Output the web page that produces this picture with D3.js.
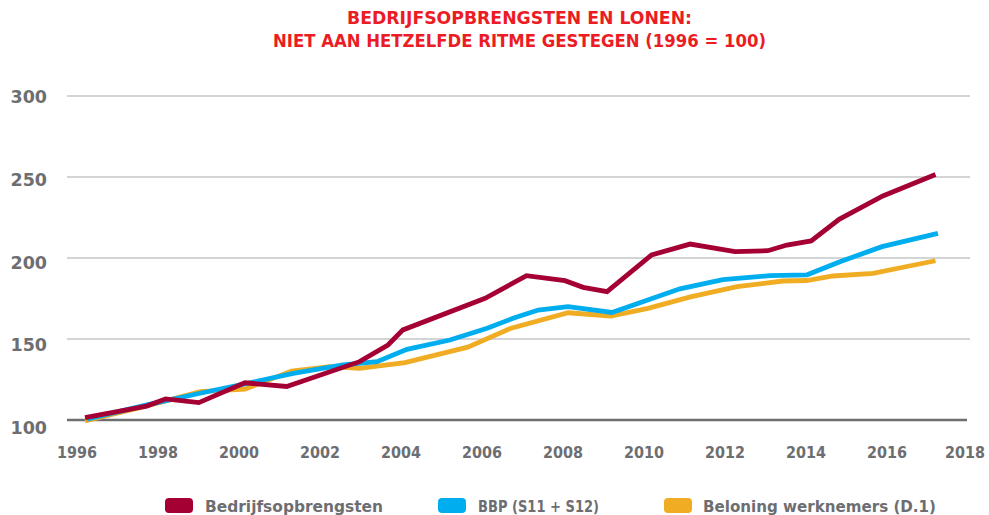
<!DOCTYPE html>
<html>
<head>
<meta charset="utf-8">
<script src="https://cdn.jsdelivr.net/npm/d3@7"></script>
<style>
    html, body { margin: 0; padding: 0; background: #fff; }
    svg { display: block; }
</style>
</head>
<body>
<div id="chart"></div>
<script>
// values, as [year, index] pairs (1996 = 100)
const opbrengsten = [
    [1996.0, 101.4], [1997.52, 108.6], [1997.99, 113.0], [1998.81, 110.7],
    [1999.95, 123.0], [2000.98, 120.7], [2002.78, 136.0], [2003.48, 146.3],
    [2003.85, 155.6], [2005.88, 175.1], [2006.9, 189.1], [2007.85, 186.0],
    [2008.3, 181.9], [2008.89, 179.2], [2009.99, 201.9], [2010.94, 208.6],
    [2012.05, 203.9], [2012.86, 204.5], [2013.33, 208.0], [2013.93, 210.5],
    [2014.62, 223.9], [2015.7, 238.3], [2017.0, 251.6]
];
const bbp = [
    [1996.05, 100.5], [1997.53, 109.3], [1998.84, 116.5], [1999.95, 122.3],
    [2001.14, 128.8], [2002.37, 134.0], [2003.21, 136.0], [2003.95, 143.6],
    [2005.01, 149.4], [2005.93, 156.6], [2006.57, 162.8], [2007.19, 167.9],
    [2007.93, 170.0], [2009.01, 166.4], [2010.69, 181.0], [2011.75, 186.6],
    [2012.91, 189.1], [2013.83, 189.6], [2014.64, 197.7], [2015.68, 207.0],
    [2017.06, 215.2]
];
const beloning = [
    [1996.0, 99.4], [1997.5, 108.6], [1998.85, 117.5], [1999.95, 119.0],
    [2001.1, 130.2], [2002.05, 133.0], [2002.78, 131.9], [2003.9, 135.4],
    [2005.45, 145.0], [2006.5, 156.5], [2007.93, 166.2], [2008.98, 164.2],
    [2009.9, 168.9], [2010.95, 176.0], [2012.1, 182.3], [2013.23, 185.8],
    [2013.82, 186.1], [2014.47, 188.9], [2015.46, 190.5], [2016.2, 194.3],
    [2017.0, 198.3]
];
const seriesNames = ['Bedrijfsopbrengsten', 'BBP (S11 + S12)', 'Beloning werknemers (D.1)'];
const xTicks = [1996, 1998, 2000, 2002, 2004, 2006, 2008, 2010, 2012, 2014, 2016, 2018];
const yTicks = [100, 150, 200, 250, 300];
const titleLines = ['BEDRIJFSOPBRENGSTEN EN LONEN:', 'NIET AAN HETZELFDE RITME GESTEGEN (1996 = 100)'];

document.addEventListener('DOMContentLoaded', function () {
    const width = 989;
    const height = 515;
    const colors = ['#a50034', '#00aeef', '#f0ac22'];
    const gray = '#6d6e71';
    const font = '"DejaVu Sans", sans-serif';

    const svg = d3.select('#chart')
        .append('svg')
        .attr('width', width)
        .attr('height', height);

    // scales: years run along x, index along y
    const x = d3.scaleLinear().domain([1996, 2018]).range([85, 976]);
    const y = d3.scaleLinear().domain([100, 300]).range([420, 96]);
    // tick labels sit a bit lower than the gridlines, more so at the bottom
    const yLabel = d3.scaleLinear().domain([100, 300]).range([434, 103]);

    // title, two centred lines
    svg.append('g')
        .selectAll('text')
        .data(titleLines)
        .enter()
        .append('text')
        .attr('x', 519.5)
        .attr('y', (d, i) => 24 + i * 23)
        .attr('text-anchor', 'middle')
        .attr('textLength', (d, i) => i === 0 ? 345 : 493)
        .attr('lengthAdjust', 'spacingAndGlyphs')
        .style('font', `bold 17px ${font}`)
        .style('fill', '#ec1c24')
        .text(d => d);

    // horizontal gridlines (100 is drawn as the darker base line)
    svg.append('g')
        .selectAll('line')
        .data(yTicks.filter(t => t !== 100))
        .enter()
        .append('line')
        .attr('x1', 67)
        .attr('x2', 970)
        .attr('y1', d => y(d))
        .attr('y2', d => y(d))
        .style('stroke', '#d3d4d6')
        .style('stroke-width', 2);

    svg.append('line')
        .attr('x1', 67)
        .attr('x2', 967)
        .attr('y1', y(100))
        .attr('y2', y(100))
        .style('stroke', gray)
        .style('stroke-width', 2.5);

    // y tick labels
    svg.append('g')
        .selectAll('text')
        .data(yTicks)
        .enter()
        .append('text')
        .attr('x', 47)
        .attr('y', d => yLabel(d))
        .attr('text-anchor', 'end')
        .style('font', `bold 17.5px ${font}`)
        .style('fill', gray)
        .text(d => d);

    // x tick labels, last one kept clear of the right edge
    svg.append('g')
        .selectAll('text')
        .data(xTicks)
        .enter()
        .append('text')
        .attr('x', d => Math.min(x(d) - 8, width - 24))
        .attr('y', 458)
        .attr('text-anchor', 'middle')
        .attr('textLength', 40)
        .attr('lengthAdjust', 'spacingAndGlyphs')
        .style('font', `bold 15px ${font}`)
        .style('fill', gray)
        .text(d => d);

    // lines, yellow first so red ends up on top
    const line = d3.line()
        .x(d => x(d[0]))
        .y(d => y(d[1]));

    const series = [opbrengsten, bbp, beloning];
    svg.append('g')
        .selectAll('path')
        .data([2, 1, 0])
        .enter()
        .append('path')
        .attr('d', i => line(series[i]))
        .style('stroke', i => colors[i])
        .style('stroke-width', 4.8)
        .style('fill', 'none');

    // legend along the bottom
    const legendX = [165, 438, 664];
    const legendTextWidth = [178, 121, 233];
    const legend = svg.append('g')
        .selectAll('g')
        .data(seriesNames)
        .enter()
        .append('g')
        .attr('transform', (d, i) => `translate(${legendX[i]},498)`);

    legend.append('rect')
        .attr('width', 28)
        .attr('height', 15)
        .attr('rx', 4)
        .style('fill', (d, i) => colors[i]);

    legend.append('text')
        .attr('x', (d, i) => i === 2 ? 39 : 40)
        .attr('y', 14)
        .attr('textLength', (d, i) => legendTextWidth[i])
        .attr('lengthAdjust', 'spacingAndGlyphs')
        .style('font', `bold 15px ${font}`)
        .style('fill', gray)
        .text(d => d);
});
</script>
</body>
</html>
